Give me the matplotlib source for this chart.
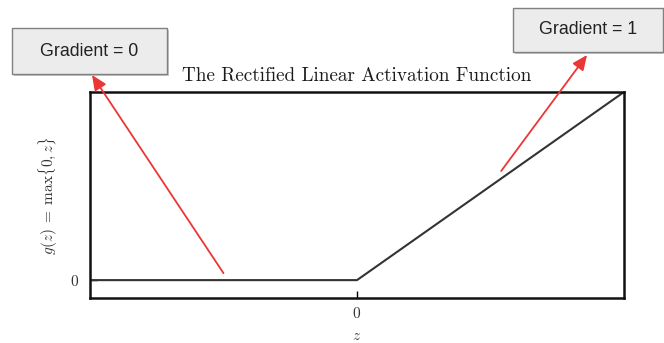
import matplotlib
matplotlib.use("Agg")
import matplotlib.pyplot as plt
from matplotlib.patches import Rectangle
import numpy as np

# ReLU curve samples
z_values = [-2.0, 0.0, 2.0]
g_values = [0.0, 0.0, 2.0]

# Callout labels and the curve points they refer to
callout_texts = ["Gradient = 0", "Gradient = 1"]
callout_tails = [(-1.0, 0.074), (1.08, 1.16)]

plt.rcParams["mathtext.fontset"] = "cm"

W, H = 664, 343
fig = plt.figure(figsize=(W / 100, H / 100), dpi=100)
ax = fig.add_axes([90 / W, 1 - 298 / H, 534 / W, 206 / H])

ax.plot(z_values, g_values, color="#333333", lw=1.5, solid_capstyle="butt")
ax.set_xlim(-2, 2)
ax.set_ylim(-0.19, 2)

for s in ax.spines.values():
    s.set_linewidth(1.8)
    s.set_color("#111111")

ax.set_xticks([0])
ax.set_xticklabels(["$0$"], fontsize=11, color="#333333")
ax.set_yticks([0])
ax.set_yticklabels(["$0$"], fontsize=11, color="#333333")
ax.tick_params(direction="in", length=5, width=1)
ax.tick_params(axis="y", pad=8)
ax.tick_params(axis="x", pad=6)

ax.set_title("The Rectified Linear Activation Function", family="cmr10",
             fontsize=13.8, color="#1a1a1a", pad=8)
ax.set_xlabel("$z$", fontsize=11, color="#333333", labelpad=5)
ax.set_ylabel(r"$g(z)\;=\;\max\{0, z\}$", fontsize=11, color="#333333", labelpad=7)

# Callout boxes in pixel coordinates (left, top, right, bottom)
boxes = [(12, 28, 167, 74), (513, 8, 663, 52)]
heads = [(92, 75), (587, 55)]

for text, (l, t, r, b), (hx, hy), tail in zip(callout_texts, boxes, heads, callout_tails):
    # soft shadow
    fig.add_artist(Rectangle(((l + 1.5) / W, 1 - (b + 1.5) / H), (r - l) / W, (b - t) / H,
                             transform=fig.transFigure, facecolor="#c8c8c8",
                             edgecolor="none", zorder=4))
    fig.add_artist(Rectangle((l / W, 1 - b / H), (r - l) / W, (b - t) / H,
                             transform=fig.transFigure, facecolor="#ececec",
                             edgecolor="#808080", lw=1.0, zorder=5))
    fig.text((l + r) / 2 / W, 1 - (t + b) / 2 / H, text, family="Liberation Sans",
             fontsize=12.8, color="#222222", ha="center", va="center", zorder=6)
    ax.annotate("", xy=(hx / W, 1 - hy / H), xycoords="figure fraction",
                xytext=tail, textcoords="data",
                arrowprops=dict(arrowstyle="-|>,head_length=0.9,head_width=0.4",
                                color="#ec3535", lw=1.3, shrinkA=0, shrinkB=0),
                annotation_clip=False, zorder=7)

fig.savefig("out.png", dpi=100)
